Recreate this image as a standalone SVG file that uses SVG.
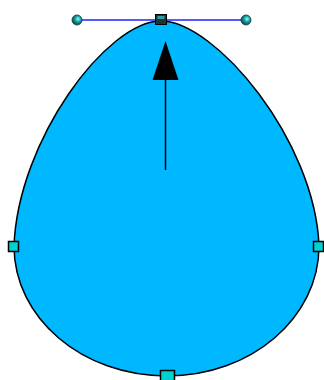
<svg xmlns="http://www.w3.org/2000/svg" width="324" height="380" viewBox="0 0 324 380">
<defs>
<radialGradient id="ball" cx="0.6" cy="0.4" r="0.6">
<stop offset="0" stop-color="#7fffff"/>
<stop offset="0.5" stop-color="#1a9a9a"/>
<stop offset="1" stop-color="#0a4a4a"/>
</radialGradient>
<style>
.egg{fill:#00b8ff;stroke:#000;stroke-width:1.5}
.hsq{fill:#00d0d0;stroke:#000;stroke-width:1.5}
.hball{fill:url(#ball);stroke:#0a3a3a;stroke-width:0.8}
.tan{stroke:#2020ff;stroke-width:1.5;fill:none}
.arr{stroke:#000;stroke-width:1.5;fill:none}
</style>
</defs>
<g id="egg">
<path class="egg" d="M161,21 C215,21 315,140 319,246 C319,318 251,376 167,376 C82,376 14,318 14,246 C18,140 107,21 161,21 Z"/>
</g>
<g id="connectors">
<line class="arr" x1="165.5" y1="78" x2="165.5" y2="170"/>
<polygon points="165.5,41 152.5,80 178.5,80" fill="#000"/>
</g>
<g id="tangent">
<line class="tan" x1="77" y1="20" x2="246" y2="20"/>
</g>
<g id="handles">
<circle class="hball" cx="77" cy="20" r="5"/>
<circle class="hball" cx="246" cy="20" r="5"/>
<rect x="155.5" y="14.5" width="11" height="10" fill="#1a3535" stroke="#000" stroke-width="1"/>
<rect x="157.5" y="16" width="7" height="3" fill="#30a0a0"/>
<rect class="hsq" x="8.5" y="241.5" width="10" height="10"/>
<rect class="hsq" x="313.5" y="241.5" width="10" height="10"/>
<rect class="hsq" x="160.5" y="370.5" width="14" height="12"/>
</g>
</svg>
